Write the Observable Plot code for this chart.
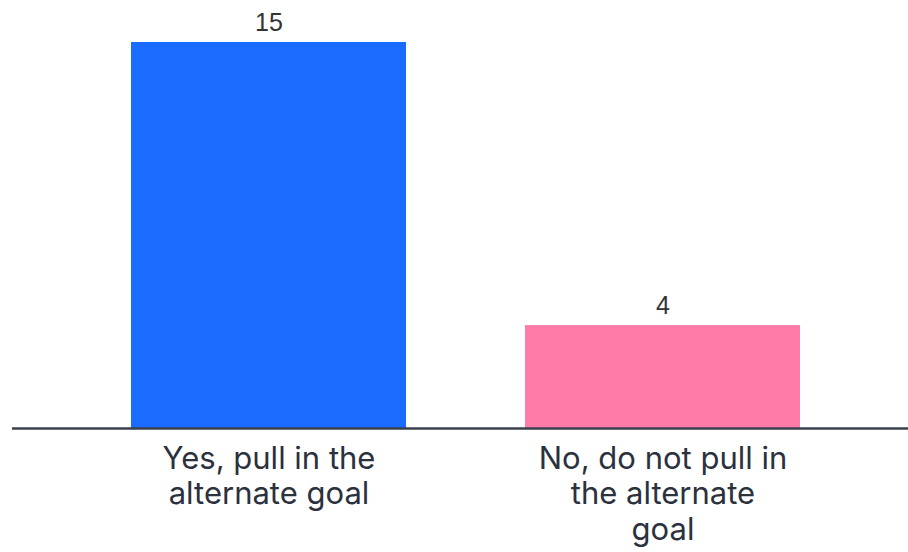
<!DOCTYPE html>
<html>
<head>
<meta charset="utf-8">
<script src="https://cdn.jsdelivr.net/npm/d3@7"></script>
<script src="https://cdn.jsdelivr.net/npm/@observablehq/plot@0.6"></script>
<style>
  html, body { margin: 0; padding: 0; background: #fff; }
  #chart svg { display: block; }
</style>
</head>
<body>
<div id="chart"></div>
<script>
const categories = ["Yes, pull in the alternate goal", "No, do not pull in the alternate goal"];
const values = [15, 4];
const tickLabels = ["Yes, pull in the\nalternate goal", "No, do not pull in\nthe alternate\ngoal"];
const colors = ["#1a6bff", "#ff7ca9"];

const data = categories.map((c, i) => ({category: c, value: values[i], color: colors[i]}));

const chart = Plot.plot({
  width: 908,
  height: 552,
  marginTop: 42,
  marginBottom: 124,
  marginLeft: 12,
  marginRight: 0,
  style: {background: "#fff"},
  x: {domain: categories, paddingInner: 0.302, paddingOuter: 0.288, align: 0.524, label: null},
  y: {domain: [0, 15], axis: null},
  marks: [
    Plot.barY(data, {x: "category", y: "value", fill: "color"}),
    Plot.ruleY([0], {stroke: "#3a404d", strokeWidth: 2.5}),
    Plot.text(data, {x: "category", y: "value", text: d => String(d.value), lineAnchor: "bottom", dy: -12,
      fontSize: 25, fill: "#333", fontFamily: "Liberation Sans, Arial, sans-serif"}),
    Plot.axisX({
      tickSize: 0,
      tickPadding: 15,
      tickFormat: d => tickLabels[categories.indexOf(d)],
      fontSize: 31,
      lineHeight: 1.15,
      fill: "#2b313d",
      fontFamily: "Inter, sans-serif",
      label: null
    })
  ]
});
document.getElementById("chart").appendChild(chart);
</script>
</body>
</html>
